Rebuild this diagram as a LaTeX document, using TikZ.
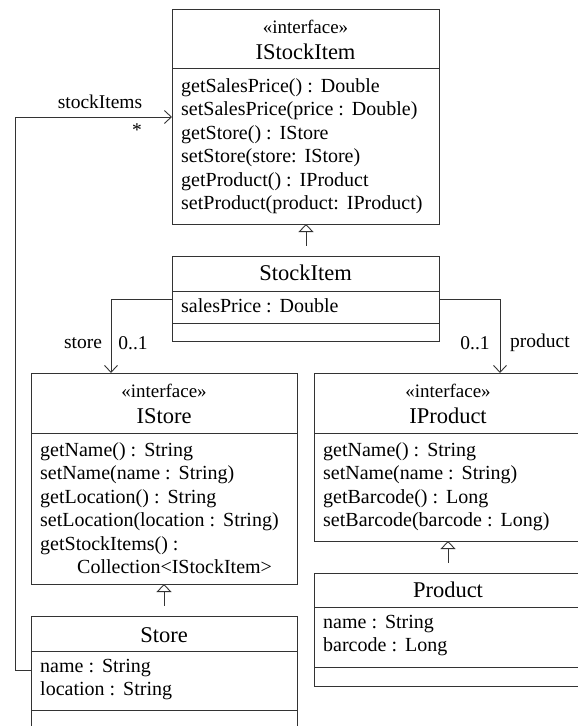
\documentclass[tikz,border=0pt]{standalone}
\usepackage{fontspec}
\setmainfont{Liberation Serif}
\usetikzlibrary{arrows.meta}
% typed colon with the wider gap after it
\newcommand\tcol{\ :\hspace{0.15em}\ }
\begin{document}
\begin{tikzpicture}[x=1pt,y=-1pt,
  line/.style={draw=black!80, line width=0.9pt},
  classbox/.style={line, anchor=north west, inner sep=0pt, outer sep=0pt},
  optext/.style={anchor=base west, inner sep=0pt, font=\fontsize{20}{23.5}\selectfont},
  stereo/.style={inner sep=0pt, font=\fontsize{19}{22}\selectfont},
  cname/.style={inner sep=0pt, font=\fontsize{22.5}{26}\selectfont},
  lbl/.style={inner sep=0pt, font=\fontsize{19.5}{23.5}\selectfont},
  realize/.style={line, dash pattern=on 14pt off 20pt,
    {Triangle[open, length=8pt, width=15pt, fill=white]}-},
  assoc/.style={line, -{Straight Barb[length=7pt, width=13pt]}}
]
\useasboundingbox (0,0) rectangle (578,726);
\clip (0,0) rectangle (578,726);

% ---- IStockItem (interface)
\node[classbox, minimum width=267pt, minimum height=215pt] (isi) at (172,9) {};
\draw[line] (isi.west |- 0,68) -- (isi.east |- 0,68);
\node[stereo] (isi-st) at (305.5,27) {«interface»};
\node[cname] (isi-nm) at (305.5,52) {IStockItem};
\foreach \t [count=\i from 0] in {{getSalesPrice()\tcol Double},{setSalesPrice(price\tcol Double)},{getStore()\tcol IStore},{setStore(store:\hspace{0.15em}\ IStore)},{getProduct()\tcol IProduct},{setProduct(product:\hspace{0.15em}\ IProduct)}}
  \node[optext] (isi-op\i) at (181,92+23.5*\i) {\t};

% ---- StockItem (class)
\node[classbox, minimum width=267pt, minimum height=85pt] (si) at (172,256) {};
\draw[line] (si.west |- 0,291) -- (si.east |- 0,291);
\draw[line] (si.west |- 0,323) -- (si.east |- 0,323);
\node[cname] (si-nm) at (305.5,273) {StockItem};
\node[optext] (si-at0) at (181,312) {salesPrice\tcol Double};

% ---- IStore (interface)
\node[classbox, minimum width=266pt, minimum height=211pt] (ist) at (31,373) {};
\draw[line] (ist.west |- 0,433) -- (ist.east |- 0,433);
\node[stereo] (ist-st) at (164,391) {«interface»};
\node[cname] (ist-nm) at (164,416) {IStore};
\foreach \t [count=\i from 0] in {{getName()\tcol String},{setName(name\tcol String)},{getLocation()\tcol String},{setLocation(location\tcol String)},{getStockItems()\ :}}
  \node[optext] (ist-op\i) at (40,456+23.5*\i) {\t};
\node[optext] (ist-op5) at (77,573.5) {Collection<IStockItem>};

% ---- Store (class)
\node[classbox, minimum width=266pt, minimum height=134pt] (st) at (31,616) {};
\draw[line] (st.west |- 0,651) -- (st.east |- 0,651);
\draw[line] (st.west |- 0,710) -- (st.east |- 0,710);
\node[cname] (st-nm) at (164,635) {Store};
\node[optext] (st-at0) at (40,672) {name\tcol String};
\node[optext] (st-at1) at (40,695.5) {location\tcol String};

% ---- IProduct (interface)
\node[classbox, minimum width=268pt, minimum height=168pt] (ip) at (314,373) {};
\draw[line] (ip.west |- 0,433) -- (ip.east |- 0,433);
\node[stereo] (ip-st) at (448,391) {«interface»};
\node[cname] (ip-nm) at (448,416) {IProduct};
\foreach \t [count=\i from 0] in {{getName()\tcol String},{setName(name\tcol String)},{getBarcode()\tcol Long},{setBarcode(barcode\tcol Long)}}
  \node[optext] (ip-op\i) at (323,456+23.5*\i) {\t};

% ---- Product (class)
\node[classbox, minimum width=268pt, minimum height=113pt] (pr) at (314,573) {};
\draw[line] (pr.west |- 0,607) -- (pr.east |- 0,607);
\draw[line] (pr.west |- 0,667) -- (pr.east |- 0,667);
\node[cname] (pr-nm) at (448,590) {Product};
\node[optext] (pr-at0) at (323,628) {name\tcol String};
\node[optext] (pr-at1) at (323,651.5) {barcode\tcol Long};

% ---- realizations
\draw[realize] (isi.south -| 306,0) -- (si.north -| 306,0);
\draw[realize] (ist.south -| 164,0) -- (st.north -| 164,0);
\draw[realize] (ip.south -| 448,0) -- (pr.north -| 448,0);

% ---- associations
\draw[assoc] (si.west |- 0,299) -| (ist.north -| 111,0);
\node[lbl] (l-store) at (83,343) {store};
\node[lbl] (m-store) at (133,343) {0..1};

\draw[assoc] (si.east |- 0,299) -| (ip.north -| 500,0);
\node[lbl] (m-prod) at (475,343) {0..1};
\node[lbl] (l-prod) at (540,343) {product};

\coordinate (bend) at (15,670);
\draw[assoc] (st.west |- bend) -- (bend) |- (isi.west |- 0,117);
\node[lbl] (l-items) at (100,102) {stockItems};
\node[lbl] (m-items) at (137,130) {*};
\end{tikzpicture}
\end{document}
